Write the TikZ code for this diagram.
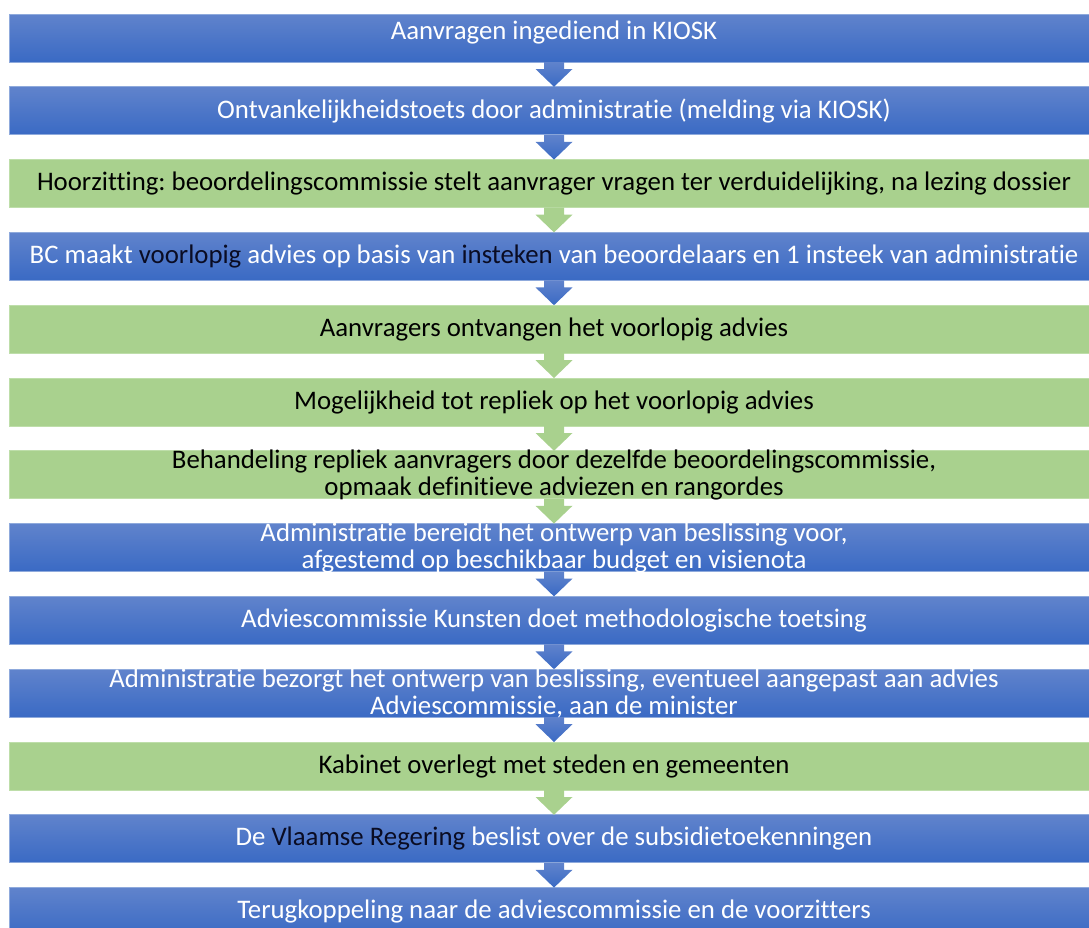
\documentclass[tikz,border=0pt]{standalone}
\usepackage{fontspec}
\setmainfont[RawFeature={-liga;-clig;-calt}]{Carlito}
\frenchspacing
\usetikzlibrary{calc}
\definecolor{barblueTop}{RGB}{96,131,204}
\definecolor{barblueBot}{RGB}{58,106,196}
\definecolor{barEdge}{RGB}{143,170,220}
\definecolor{bargreen}{RGB}{169,209,142}
\definecolor{greenEdge}{RGB}{190,222,170}
\definecolor{inkdark}{RGB}{10,12,35}
\def\flowarrow[#1](#2)(#3){\path[#1] ($(#2.south)+(-10,0)$) -- ($(#2.south)+(-10,7)$) -- ($(#2.south)+(-18.5,7)$) -- (#3.north) -- ($(#2.south)+(18.5,7)$) -- ($(#2.south)+(10,7)$) -- ($(#2.south)+(10,0)$) -- cycle;}
\tikzset{
  bar/.style={minimum width=1090, minimum height=48, inner sep=0, outer sep=0},
  bluebar/.style={bar, top color=barblueTop, bottom color=barblueBot, draw=barEdge, line width=0.8},
  greenbar/.style={bar, fill=bargreen, draw=greenEdge, line width=0.8},
  bluearrow/.style={top color=barblueTop, bottom color=barblueBot},
  greenarrow/.style={fill=bargreen},
  steptext/.style={align=center, inner sep=0, font=\fontsize{26.8}{27}\selectfont},
  whitetext/.style={steptext, text=white},
  blacktext/.style={steptext, text=black}
}
\begin{document}
\begin{tikzpicture}[x=1pt, y=-1pt]
		%%%%% START %%%%%
		\clip (0,0) rectangle (1089,927);
		
		% bars
		\node[bluebar] (b1) at (554, 38) {};
		\node[bluebar] (b2) at (554, 110.8) {};
		\node[greenbar] (b3) at (554, 183.6) {};
		\node[bluebar] (b4) at (554, 256.4) {};
		\node[greenbar] (b5) at (554, 329.2) {};
		\node[greenbar] (b6) at (554, 402) {};
		\node[greenbar] (b7) at (554, 474.8) {};
		\node[bluebar] (b8) at (554, 547.6) {};
		\node[bluebar] (b9) at (554, 620.4) {};
		\node[bluebar] (b10) at (554, 693.2) {};
		\node[greenbar] (b11) at (554, 766) {};
		\node[bluebar] (b12) at (554, 838.8) {};
		\node[bluebar] (b13) at (554, 911.6) {};
		
		% arrows
		\flowarrow[bluearrow](b1)(b2)
		\flowarrow[bluearrow](b2)(b3)
		\flowarrow[greenarrow](b3)(b4)
		\flowarrow[bluearrow](b4)(b5)
		\flowarrow[greenarrow](b5)(b6)
		\flowarrow[greenarrow](b6)(b7)
		\flowarrow[greenarrow](b7)(b8)
		\flowarrow[bluearrow](b8)(b9)
		\flowarrow[bluearrow](b9)(b10)
		\flowarrow[bluearrow](b10)(b11)
		\flowarrow[greenarrow](b11)(b12)
		\flowarrow[bluearrow](b12)(b13)
		
		% texts
		\node[whitetext, yshift=6] (t1) at (b1) {Aanvragen ingediend in KIOSK};
		\node[whitetext] (t2) at (b2) {Ontvankelijkheidstoets door administratie (melding via KIOSK)};
		\node[blacktext] (t3) at (b3) {Hoorzitting: beoordelingscommissie stelt aanvrager vragen ter verduidelijking, na lezing dossier};
		\node[whitetext] (t4) at (b4) {BC maakt \textcolor{inkdark}{voorlopig} advies op basis van \textcolor{inkdark}{insteken} van beoordelaars en 1 insteek van administratie};
		\node[blacktext] (t5) at (b5) {Aanvragers ontvangen het voorlopig advies};
		\node[blacktext] (t6) at (b6) {Mogelijkheid tot repliek op het voorlopig advies};
		\node[blacktext] (t7) at (b7) {Behandeling repliek aanvragers door dezelfde beoordelingscommissie,\\opmaak definitieve adviezen en rangordes};
		\node[whitetext] (t8) at (b8) {Administratie bereidt het ontwerp van beslissing voor,\\afgestemd op beschikbaar budget en visienota};
		\node[whitetext] (t9) at (b9) {Adviescommissie Kunsten doet methodologische toetsing};
		\node[whitetext] (t10) at (b10) {Administratie bezorgt het ontwerp van beslissing, eventueel aangepast aan advies\\Adviescommissie, aan de minister};
		\node[blacktext] (t11) at (b11) {Kabinet overlegt met steden en gemeenten};
		\node[whitetext] (t12) at (b12) {De \textcolor{inkdark}{Vlaamse Regering} beslist over de subsidietoekenningen};
		\node[whitetext] (t13) at (b13) {Terugkoppeling naar de adviescommissie en de voorzitters};
		
		%%%%% END %%%%%
\end{tikzpicture}
\end{document}
